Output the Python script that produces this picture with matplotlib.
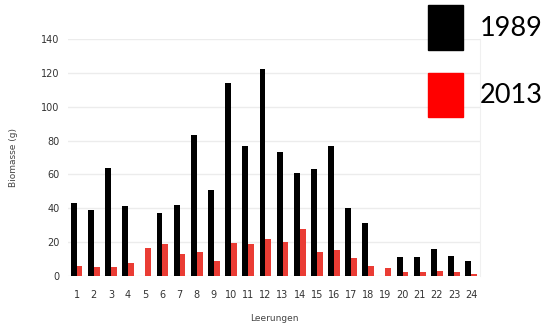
import numpy as np
import matplotlib.pyplot as plt
from matplotlib.patches import Patch

# Leerungen 1..24
leerungen = np.arange(1, 25)
labels = [str(i) for i in leerungen]

biomasse_1989 = [43, 39, 64, 41, 0, 37, 42, 83, 51, 114, 77, 122,
                 73, 61, 63, 77, 40, 31, 0, 11, 11, 16, 12, 9]
biomasse_2013 = [6, 5.5, 5, 7.5, 16.5, 19, 13, 14, 8.5, 19.5, 19, 22,
                 20, 27.5, 14, 15, 10.5, 6, 4.5, 2, 2, 3, 2, 1]

series_names = ["1989", "2013"]
colors = ["#000000", "#ff0000"]
bar_colors = ["#000000", "#ea3c34"]

fig = plt.figure(figsize=(5.49, 3.28), dpi=100)
ax = fig.add_axes([0.124, 0.159, 0.750, 0.722])

w = 0.34
ax.bar(leerungen - w / 2, biomasse_1989, width=w, color=bar_colors[0], zorder=3)
ax.bar(leerungen + w / 2, biomasse_2013, width=w, color=bar_colors[1], zorder=3)

ax.set_xlim(0.5, 24.5)
ax.set_ylim(0, 140)
ax.set_yticks(np.arange(0, 141, 20))
ax.set_xticks(leerungen)
ax.set_xticklabels(labels)

ax.yaxis.grid(True, color="#ececec", linewidth=1, zorder=0)
for s in ["left", "bottom", "top"]:
    ax.spines[s].set_visible(False)
ax.spines["right"].set_color("#f0f0f0")
ax.tick_params(length=0, labelsize=7, colors="#333333")
ax.tick_params(axis="x", pad=10)
ax.tick_params(axis="y", pad=6)

ax.set_xlabel("Leerungen", fontsize=6.5, color="#444444", labelpad=10)
ax.set_ylabel("Biomasse (g)", fontsize=6.5, color="#444444", labelpad=17)

# legend, big swatches top right
handles = [Patch(facecolor=c, edgecolor=c) for c in colors]
fig.legend(handles, series_names, loc="upper left",
           bbox_to_anchor=(0.765, 1.009), frameon=False,
           prop={"family": "Lato", "size": 19.5},
           handlelength=1.3, handleheight=2.15, borderaxespad=0,
           handletextpad=0.6, labelspacing=0.85, borderpad=0.3)

fig.savefig("out.png", dpi=100)
